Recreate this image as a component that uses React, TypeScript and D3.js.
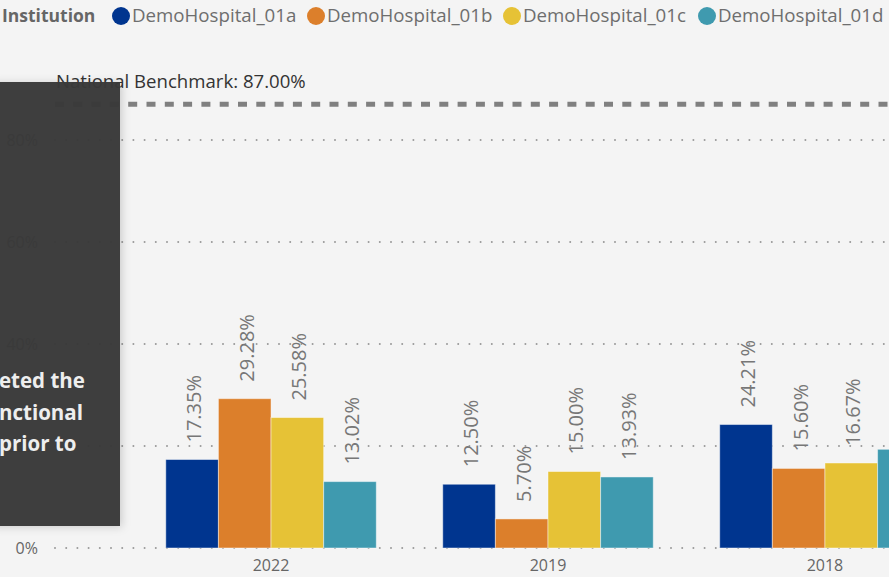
import * as d3 from 'd3';
import React from 'react';

const years = ['2022', '2019', '2018'];
const institutions = ['DemoHospital_01a', 'DemoHospital_01b', 'DemoHospital_01c', 'DemoHospital_01d'];
const colors = ['#00358f', '#dc7f2b', '#e6c236', '#3f9aaf'];
const values01a = [17.35, 12.5, 24.21];
const values01b = [29.28, 5.7, 15.6];
const values01c = [25.58, 15.0, 16.67];
const values01d = [13.02, 13.93, 19.35];
const seriesValues = [values01a, values01b, values01c, values01d];
const yTicks = [0, 20, 40, 60, 80];
const benchmark = 87;
const tooltipLines = ['eted the', 'nctional', 'prior to'];

const width = 889;
const height = 577;
const margin = { top: 38, left: 55, bottom: 29 };
const font = '"Open Sans", "Noto Sans", sans-serif';

export default function App() {
  const plotRight = 1041; // plot continues past the visible edge
  const x = d3.scaleBand<string>().domain(years).range([margin.left, plotRight]).paddingInner(0.24).paddingOuter(0.4);
  const xs = d3.scaleBand<string>().domain(institutions).range([0, x.bandwidth()]).padding(0);
  const y = d3.scaleLinear().domain([0, 100]).range([height - margin.bottom, margin.top]);

  const legendX = [121, 316, 512, 707];

  return (
    <div style={{ position: 'absolute', left: 0, top: 0 }}>
      <svg width={width} height={height} style={{ display: 'block', background: '#f4f4f4' }}>
        <defs>
          <filter id="shadow" x="-20%" y="-10%" width="140%" height="120%">
            <feDropShadow dx="2" dy="1" stdDeviation="4" floodColor="#000" floodOpacity="0.18" />
          </filter>
        </defs>

        {/* legend */}
        <text x={2} y={22} fontFamily={font} fontWeight={700} fontSize={17.5} fill="#666">Institution</text>
        {institutions.map((name, i) => (
          <g key={name}>
            <circle cx={legendX[i]} cy={16} r={9} fill={colors[i]} />
            <text x={legendX[i] + 11} y={22} fontFamily={font} fontSize={18.7} fill="#6e6e6e">{name}</text>
          </g>
        ))}

        {/* y grid + labels */}
        {yTicks.map((t) => (
          <g key={t}>
            <line x1={margin.left} x2={plotRight} y1={y(t)} y2={y(t)} stroke="#999" strokeWidth={2}
              strokeLinecap="round" strokeDasharray="0 11.2" />
            <text x={38} y={y(t)} dy="0.35em" textAnchor="end" fontFamily={font} fontSize={16} fill="#666">{t}%</text>
          </g>
        ))}

        {/* benchmark */}
        <line x1={margin.left} x2={plotRight} y1={y(benchmark)} y2={y(benchmark)} stroke="#808080"
          strokeWidth={5} strokeDasharray="9 9.3" />
        <text x={56} y={88} fontFamily={font} fontSize={18.6} fill="#333">National Benchmark: {benchmark.toFixed(2)}%</text>

        {/* bars */}
        {years.map((yr, yi) => (
          <g key={yr} transform={`translate(${x(yr)},0)`}>
            {institutions.map((inst, si) => {
              const v = seriesValues[si][yi];
              const bx = xs(inst)!;
              const cx = bx + xs.bandwidth() / 2;
              return (
                <g key={inst}>
                  <rect x={bx} y={y(v)} width={xs.bandwidth()} height={y(0) - y(v)} fill={colors[si]}
                    stroke="rgba(255,255,255,0.45)" strokeWidth={1} />
                  <text transform={`translate(${cx + 2},${y(v) - 17}) rotate(-90)`} dy="0.35em"
                    fontFamily={font} fontSize={20} fill="#777">{v.toFixed(2)}%</text>
                </g>
              );
            })}
            <text x={x.bandwidth() / 2} y={571} textAnchor="middle" fontFamily={font} fontSize={16} fill="#666">{yr}</text>
          </g>
        ))}

        {/* tooltip overlay */}
        <rect x={-10} y={82} width={130} height={444} fill="#383838" fillOpacity={0.97} filter="url(#shadow)" />
        {tooltipLines.map((t, i) => (
          <text key={t} x={-1} y={388 + i * 31.5} fontFamily={font} fontWeight={700} fontSize={20.5} fill="#eeeeee">{t}</text>
        ))}
      </svg>
    </div>
  );
}
